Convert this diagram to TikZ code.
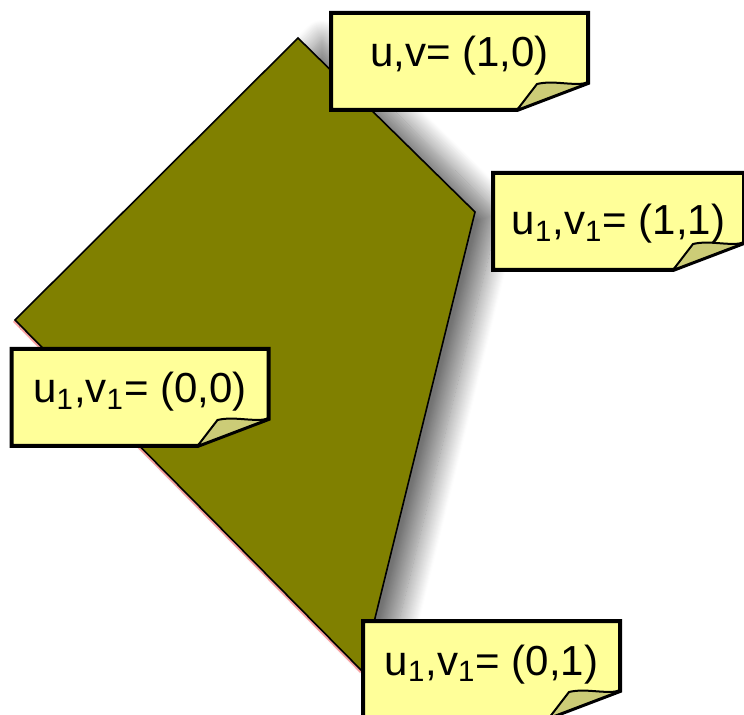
\documentclass[tikz,border=0pt]{standalone}
\usepackage{fontspec}
\setmainfont{Liberation Sans}
\usetikzlibrary{backgrounds,shadows.blur}
\definecolor{olivefill}{RGB}{128,128,0}
\definecolor{notefill}{RGB}{255,255,153}
\definecolor{flapfill}{RGB}{204,204,119}

\begin{document}
\begin{tikzpicture}[
    x=0.5pt, y=-0.5pt,
    note/.style={minimum width=128.5pt, minimum height=48.5pt, inner sep=0pt, outer sep=0pt,
        font=\fontsize{21pt}{24pt}\selectfont, text height=15pt, text depth=9.5pt},
    notebox/.style={draw=black, line width=2pt, fill=notefill, line join=miter},
    flap/.style={draw=black, line width=1pt, fill=flapfill, line join=round},
    patch/.style={draw=black, line width=0.8pt, fill=olivefill,
        blur shadow={shadow xshift=12pt, shadow yshift=-1pt, shadow blur radius=10pt,
            shadow blur steps=20, shadow opacity=55}}
]
\useasboundingbox (0,0) rectangle (744,715);

\node[note] (uv10) at (459.5,61.5) {u,v= (1,0)};
\node[note, minimum width=125.5pt, text height=19pt, text depth=5.5pt] (uv11) at (618.5,221.5) {u\textsubscript{1},v\textsubscript{1}= (1,1)};
\node[note] (uv00) at (140,397.5) {u\textsubscript{1},v\textsubscript{1}= (0,0)};
\node[note] (uv01) at (491.5,669.5) {u\textsubscript{1},v\textsubscript{1}= (0,1)};

\begin{scope}[on background layer]
    % the olive patch
    \draw[red!35, line width=1pt] (13.8,321.2) -- (360.8,672.2);
    \draw[patch] (298,38) -- (475,212) -- (362,671) -- (15,320) -- cycle;
    % sticky notes with folded corner
    \foreach \n in {uv10,uv11,uv00,uv01} {
        \draw[notebox] (\n.north west) -- (\n.north east) -- ([yshift=13.5pt]\n.south east)
            -- ([xshift=-35.5pt]\n.south east) -- (\n.south west) -- cycle;
        \draw[flap] ([xshift=-35.5pt]\n.south east) -- ([xshift=-25.5pt,yshift=13pt]\n.south east)
            .. controls ([xshift=-17pt,yshift=15pt]\n.south east) and ([xshift=-9pt,yshift=12pt]\n.south east) .. ([yshift=13.5pt]\n.south east) -- cycle;
    }
\end{scope}
\end{tikzpicture}
\end{document}
